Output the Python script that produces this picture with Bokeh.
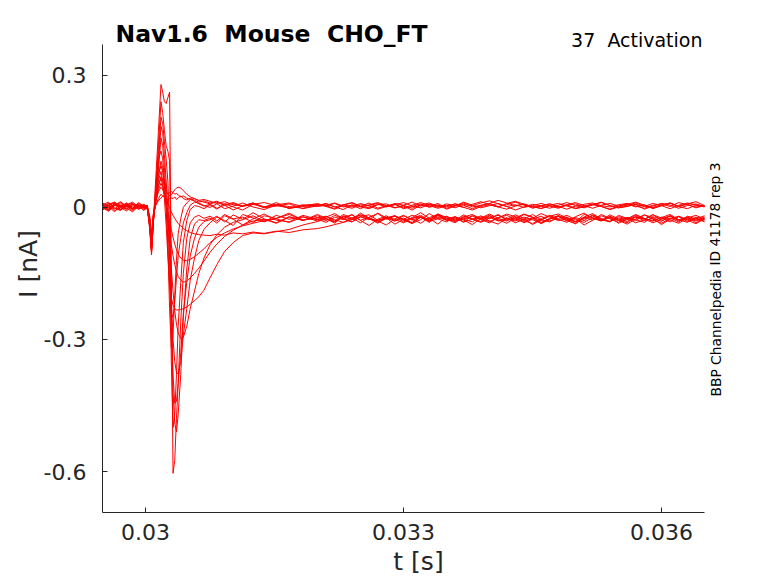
from bokeh.plotting import figure
from bokeh.models import Range1d, FixedTicker, CustomJSTickFormatter, Label
from bokeh.embed import file_html
from bokeh.resources import INLINE

# time axis [s], shared by all sweeps
t_s = [0.02950, 0.02957, 0.02964, 0.02971, 0.02978, 0.02985, 0.02992, 0.02998,
       0.03002, 0.03005, 0.03007, 0.03009, 0.03012, 0.03015, 0.03018, 0.03020, 0.03022, 0.03024, 0.03026, 0.03028,
       0.03030, 0.03032, 0.03034, 0.03036, 0.03038, 0.03041, 0.03044, 0.03048, 0.03052, 0.03057, 0.03062, 0.03068,
       0.03075, 0.03083, 0.03092, 0.03102, 0.03113, 0.03125, 0.03138, 0.03152, 0.03167, 0.03183, 0.03200,
       0.0321, 0.0322, 0.0323, 0.0324, 0.0325, 0.0326, 0.0327, 0.0328, 0.0329,
       0.0330, 0.0331, 0.0332, 0.0333, 0.0334, 0.0335, 0.0336, 0.0337, 0.0338,
       0.0339, 0.0340, 0.0341, 0.0342, 0.0343, 0.0344, 0.0345, 0.0346, 0.0347,
       0.0348, 0.0349, 0.0350, 0.0351, 0.0352, 0.0353, 0.0354, 0.0355, 0.0356,
       0.0357, 0.0358, 0.0359, 0.0360, 0.0361, 0.0362, 0.0363, 0.0364, 0.0365]

# current sweeps [nA]
i_01 = [0.004, -0.006, 0.009, 0.001, -0.003, 0.007, 0.002, -0.001,
        0.001, -0.052, -0.108, -0.036, 0.068, 0.172, 0.279, 0.262, 0.240, 0.236, 0.249, 0.262,
        -0.160, -0.604, -0.575, -0.480, -0.400, -0.260, -0.150, -0.070, -0.035, -0.022, -0.018, -0.025,
        -0.020, -0.031, -0.016, -0.026, -0.022, -0.034, -0.019, -0.025, -0.013, -0.029, -0.024,
        -0.020, -0.031, -0.016, -0.024, -0.035, -0.022, -0.014, -0.027, -0.020,
        -0.033, -0.023, -0.012, -0.025, -0.038, -0.021, -0.029, -0.017, -0.026,
        -0.032, -0.019, -0.028, -0.036, -0.024, -0.015, -0.022, -0.030, -0.018,
        -0.027, -0.034, -0.021, -0.013, -0.025, -0.031, -0.020, -0.029, -0.038,
        -0.026, -0.017, -0.023, -0.032, -0.019, -0.028, -0.022, -0.035, -0.024]
i_02 = [-0.002, 0.008, 0.011, -0.005, 0.003, -0.008, 0.006, 0.000,
        0.002, -0.048, -0.104, -0.040, 0.050, 0.140, 0.240, 0.215, 0.175, 0.140, 0.128, 0.105,
        -0.180, -0.420, -0.490, -0.510, -0.470, -0.380, -0.250, -0.140, -0.070, -0.038, -0.028, -0.030,
        -0.024, -0.036, -0.019, -0.027, -0.040, -0.026, -0.015, -0.029, -0.033, -0.018, -0.027,
        -0.034, -0.022, -0.028, -0.016, -0.030, -0.041, -0.027, -0.019, -0.031,
        -0.024, -0.036, -0.028, -0.014, -0.026, -0.033, -0.021, -0.029, -0.039,
        -0.025, -0.018, -0.030, -0.024, -0.035, -0.027, -0.016, -0.028, -0.033,
        -0.020, -0.031, -0.025, -0.040, -0.029, -0.019, -0.026, -0.034, -0.023,
        -0.030, -0.017, -0.027, -0.036, -0.025, -0.021, -0.032, -0.026, -0.019]
i_03 = [0.008, -0.001, 0.005, 0.013, 0.002, -0.004, 0.009, 0.003,
        0.003, -0.045, -0.100, -0.032, 0.040, 0.120, 0.205, 0.190, 0.150, 0.110, 0.060, -0.050,
        -0.350, -0.500, -0.470, -0.380, -0.270, -0.170, -0.080, -0.030, -0.005, 0.004, 0.002, -0.003,
        0.006, -0.004, 0.009, 0.001, -0.006, 0.007, 0.000, 0.011, -0.003, 0.004, 0.008,
        0.004, -0.003, 0.006, 0.001, 0.009, 0.003, -0.004, 0.002, 0.007,
        -0.001, 0.005, 0.011, 0.004, -0.002, 0.003, 0.008, 0.000, -0.006,
        0.002, 0.006, 0.001, 0.009, 0.014, 0.007, 0.002, -0.003, 0.004,
        0.000, 0.006, -0.002, 0.003, 0.008, 0.002, -0.005, 0.001, 0.005,
        0.010, 0.003, -0.001, 0.004, 0.009, 0.002, -0.003, 0.005, 0.001]
i_04 = [0.000, -0.009, 0.004, 0.002, 0.010, -0.003, 0.005, -0.006,
        -0.002, -0.044, -0.098, -0.038, 0.030, 0.100, 0.184, 0.170, 0.120, 0.060, 0.000, -0.090,
        -0.250, -0.380, -0.445, -0.440, -0.400, -0.330, -0.240, -0.170, -0.110, -0.070, -0.045, -0.032,
        -0.028, -0.020, -0.033, -0.017, -0.027, -0.012, -0.026, -0.035, -0.021, -0.030, -0.016,
        -0.025, -0.036, -0.019, -0.027, -0.013, -0.024, -0.031, -0.040, -0.026,
        -0.018, -0.029, -0.022, -0.034, -0.015, -0.026, -0.021, -0.033, -0.027,
        -0.019, -0.031, -0.038, -0.024, -0.029, -0.016, -0.023, -0.034, -0.026,
        -0.020, -0.030, -0.037, -0.022, -0.014, -0.027, -0.032, -0.018, -0.025,
        -0.035, -0.028, -0.017, -0.024, -0.033, -0.021, -0.029, -0.037, -0.026]
i_05 = [0.006, 0.012, -0.002, -0.007, 0.009, 0.001, -0.004, 0.004,
        0.004, -0.040, -0.095, -0.030, 0.025, 0.085, 0.158, 0.140, 0.090, 0.030, -0.040, -0.120,
        -0.220, -0.300, -0.350, -0.375, -0.378, -0.350, -0.290, -0.230, -0.165, -0.115, -0.075, -0.050,
        -0.035, -0.022, -0.030, -0.041, -0.016, -0.024, -0.033, -0.018, -0.027, -0.021, -0.031,
        -0.022, -0.014, -0.026, -0.033, -0.020, -0.017, -0.029, -0.024, -0.038,
        -0.027, -0.018, -0.023, -0.031, -0.019, -0.027, -0.035, -0.022, -0.016,
        -0.026, -0.032, -0.024, -0.015, -0.021, -0.030, -0.037, -0.025, -0.019,
        -0.028, -0.022, -0.033, -0.016, -0.024, -0.030, -0.021, -0.036, -0.027,
        -0.018, -0.025, -0.031, -0.023, -0.016, -0.028, -0.034, -0.022, -0.027]
i_06 = [-0.005, 0.003, 0.010, -0.001, -0.008, 0.004, 0.001, 0.007,
        0.001, -0.042, -0.096, -0.034, 0.035, 0.110, 0.128, 0.110, 0.060, 0.010, -0.090, -0.230,
        -0.318, -0.290, -0.200, -0.120, -0.060, -0.025, 0.000, 0.010, 0.018, 0.014, 0.008, 0.003,
        0.007, -0.002, 0.005, -0.006, 0.004, 0.010, -0.001, 0.003, 0.008, -0.003, 0.004,
        0.009, 0.001, -0.005, 0.006, 0.002, 0.010, -0.002, 0.004, 0.007,
        -0.003, 0.002, 0.008, 0.000, 0.006, -0.004, 0.003, 0.012, 0.005,
        -0.001, 0.004, 0.009, 0.002, -0.006, 0.001, 0.007, 0.003, -0.002,
        0.005, 0.011, 0.004, -0.001, 0.006, 0.002, -0.004, 0.003, 0.008,
        0.001, 0.006, -0.003, 0.004, 0.010, 0.002, 0.007, -0.001, 0.004]
i_07 = [0.002, -0.007, 0.007, 0.004, -0.002, -0.010, 0.003, -0.001,
        -0.001, -0.038, -0.092, -0.030, 0.020, 0.070, 0.105, 0.090, 0.050, 0.010, -0.030, -0.080,
        -0.140, -0.190, -0.235, -0.265, -0.285, -0.298, -0.295, -0.270, -0.230, -0.190, -0.150, -0.115,
        -0.085, -0.062, -0.045, -0.034, -0.028, -0.019, -0.032, -0.025, -0.016, -0.029, -0.023,
        -0.030, -0.018, -0.025, -0.033, -0.021, -0.028, -0.013, -0.024, -0.031,
        -0.019, -0.027, -0.036, -0.023, -0.016, -0.029, -0.024, -0.034, -0.018,
        -0.026, -0.022, -0.031, -0.027, -0.017, -0.025, -0.039, -0.028, -0.020,
        -0.015, -0.024, -0.032, -0.026, -0.019, -0.030, -0.023, -0.028, -0.035,
        -0.021, -0.027, -0.016, -0.030, -0.024, -0.033, -0.020, -0.026, -0.031]
i_08 = [0.010, 0.003, -0.004, 0.008, 0.005, -0.002, 0.011, 0.002,
        0.003, -0.036, -0.090, -0.028, 0.018, 0.060, 0.082, 0.060, 0.020, -0.040, -0.110, -0.170,
        -0.205, -0.222, -0.230, -0.233, -0.233, -0.232, -0.230, -0.226, -0.220, -0.212, -0.203, -0.188,
        -0.160, -0.130, -0.100, -0.080, -0.064, -0.058, -0.060, -0.055, -0.050, -0.040, -0.032,
        -0.026, -0.033, -0.021, -0.028, -0.017, -0.025, -0.036, -0.024, -0.019,
        -0.029, -0.034, -0.022, -0.027, -0.015, -0.023, -0.031, -0.026, -0.020,
        -0.028, -0.035, -0.023, -0.018, -0.027, -0.032, -0.025, -0.014, -0.022,
        -0.030, -0.026, -0.037, -0.024, -0.019, -0.028, -0.033, -0.021, -0.026,
        -0.016, -0.025, -0.031, -0.022, -0.029, -0.036, -0.024, -0.018, -0.027]
i_09 = [-0.006, 0.002, -0.010, 0.005, 0.001, 0.008, -0.003, 0.004,
        -0.002, -0.040, -0.094, -0.030, 0.028, 0.075, 0.095, 0.080, 0.050, 0.000, -0.080, -0.180,
        -0.240, -0.250, -0.215, -0.160, -0.110, -0.070, -0.035, -0.012, 0.005, 0.012, 0.010, 0.004,
        0.000, 0.008, -0.003, 0.003, 0.010, 0.001, -0.005, 0.006, 0.002, -0.002, 0.007,
        0.002, -0.004, 0.005, 0.010, 0.001, -0.003, 0.006, 0.008, -0.001,
        0.003, -0.006, 0.005, 0.002, 0.009, -0.002, 0.004, 0.000, 0.007,
        0.013, 0.006, 0.001, -0.004, 0.003, 0.008, 0.002, -0.002, 0.005,
        0.009, 0.003, -0.003, 0.001, 0.006, 0.011, 0.004, -0.001, 0.002,
        0.007, -0.004, 0.003, 0.009, 0.005, -0.002, 0.004, 0.008, 0.002]
i_10 = [0.003, 0.009, -0.001, -0.006, 0.004, 0.010, -0.004, 0.001,
        0.000, -0.034, -0.088, -0.026, 0.015, 0.048, 0.066, 0.050, 0.030, 0.005, -0.025, -0.055,
        -0.085, -0.110, -0.130, -0.145, -0.157, -0.165, -0.170, -0.168, -0.160, -0.150, -0.138, -0.122,
        -0.102, -0.083, -0.066, -0.052, -0.040, -0.031, -0.027, -0.036, -0.022, -0.029, -0.019,
        -0.026, -0.032, -0.022, -0.017, -0.029, -0.023, -0.034, -0.025, -0.020,
        -0.028, -0.037, -0.022, -0.027, -0.018, -0.030, -0.024, -0.027, -0.033,
        -0.021, -0.026, -0.016, -0.029, -0.024, -0.035, -0.027, -0.020, -0.031,
        -0.025, -0.018, -0.028, -0.034, -0.023, -0.029, -0.017, -0.026, -0.032,
        -0.022, -0.030, -0.025, -0.039, -0.027, -0.020, -0.028, -0.024, -0.033]
i_11 = [-0.001, 0.005, 0.012, 0.003, -0.005, 0.007, 0.000, 0.006,
        0.002, -0.030, -0.084, -0.022, 0.012, 0.035, 0.046, 0.040, 0.030, 0.018, 0.008, 0.000,
        -0.010, -0.018, -0.025, -0.031, -0.037, -0.042, -0.048, -0.053, -0.057, -0.060, -0.062, -0.063,
        -0.064, -0.061, -0.063, -0.058, -0.060, -0.056, -0.059, -0.054, -0.057, -0.051, -0.048,
        -0.044, -0.039, -0.034, -0.028, -0.022, -0.027, -0.031, -0.024, -0.019,
        -0.028, -0.025, -0.021, -0.032, -0.026, -0.020, -0.029, -0.023, -0.027,
        -0.034, -0.024, -0.018, -0.026, -0.031, -0.022, -0.028, -0.036, -0.025,
        -0.019, -0.027, -0.023, -0.030, -0.017, -0.025, -0.032, -0.024, -0.028,
        -0.021, -0.026, -0.035, -0.027, -0.020, -0.029, -0.023, -0.031, -0.025]
i_12 = [0.007, -0.004, 0.004, 0.011, 0.003, -0.002, 0.006, 0.001,
        0.005, -0.028, -0.080, -0.018, 0.020, 0.050, 0.070, 0.062, 0.050, 0.040, 0.030, 0.026,
        0.028, 0.034, 0.040, 0.044, 0.046, 0.044, 0.038, 0.030, 0.024, 0.020, 0.016, 0.018,
        0.014, 0.009, 0.013, 0.006, 0.003, 0.010, 0.001, 0.007, -0.002, 0.004, 0.008,
        0.003, 0.009, 0.001, 0.005, -0.003, 0.006, 0.011, 0.004, -0.001,
        0.005, 0.012, 0.003, 0.007, 0.000, 0.008, 0.004, 0.010, 0.001,
        0.005, 0.009, 0.016, 0.010, 0.004, 0.007, -0.002, 0.003, 0.008,
        0.001, 0.006, 0.011, 0.004, -0.002, 0.005, 0.009, 0.003, 0.007,
        0.012, 0.005, 0.000, 0.006, 0.010, 0.003, 0.008, 0.013, 0.004]
i_13 = [-0.003, 0.006, -0.008, 0.000, 0.007, -0.005, 0.002, -0.002,
        -0.002, -0.025, -0.070, -0.020, 0.006, 0.020, 0.030, 0.026, 0.022, 0.019, 0.018, 0.020,
        0.022, 0.020, 0.024, 0.018, 0.022, 0.026, 0.020, 0.017, 0.021, 0.016, 0.012, 0.015,
        0.010, 0.014, 0.006, 0.011, 0.003, 0.009, 0.001, 0.006, 0.010, 0.002, 0.005,
        0.008, 0.001, 0.006, 0.011, 0.003, -0.001, 0.007, 0.002, 0.009,
        0.005, -0.002, 0.006, 0.010, 0.002, 0.005, -0.001, 0.007, 0.004,
        0.010, 0.015, 0.008, 0.002, 0.006, 0.000, 0.004, 0.009, 0.003,
        -0.002, 0.005, 0.008, 0.001, 0.006, 0.012, 0.004, -0.001, 0.003,
        0.007, 0.002, 0.009, 0.004, -0.003, 0.005, 0.010, 0.006, 0.002]
i_14 = [0.005, -0.001, 0.007, -0.004, 0.006, 0.012, 0.001, 0.004,
        0.004, -0.020, -0.060, -0.015, 0.005, 0.015, 0.022, 0.025, 0.028, 0.030, 0.032, 0.034,
        0.036, 0.034, 0.030, 0.032, 0.028, 0.024, 0.026, 0.021, 0.018, 0.020, 0.015, 0.012,
        0.008, 0.012, 0.004, 0.009, 0.002, 0.007, 0.011, 0.004, -0.001, 0.006, 0.002,
        0.005, 0.010, 0.003, -0.002, 0.006, 0.004, 0.009, 0.001, 0.006,
        0.011, 0.003, -0.001, 0.007, 0.004, 0.001, 0.008, 0.005, -0.003,
        0.004, 0.009, 0.002, 0.006, 0.012, 0.005, 0.000, 0.004, 0.008,
        0.002, -0.004, 0.003, 0.007, 0.010, 0.004, 0.001, 0.006, 0.009,
        0.003, -0.002, 0.005, 0.008, 0.002, 0.011, 0.006, 0.001, 0.004]
i_15 = [0.001, -0.006, 0.006, 0.002, 0.009, -0.003, 0.004, -0.007,
        0.003, -0.032, -0.086, -0.024, 0.014, 0.040, 0.055, 0.045, 0.030, 0.012, -0.010, -0.030,
        -0.050, -0.068, -0.083, -0.096, -0.106, -0.115, -0.120, -0.121, -0.118, -0.112, -0.104, -0.094,
        -0.080, -0.068, -0.058, -0.049, -0.042, -0.036, -0.030, -0.026, -0.034, -0.022, -0.028,
        -0.021, -0.028, -0.034, -0.024, -0.017, -0.026, -0.030, -0.022, -0.027,
        -0.035, -0.025, -0.018, -0.029, -0.023, -0.027, -0.032, -0.020, -0.026,
        -0.024, -0.015, -0.025, -0.031, -0.021, -0.028, -0.024, -0.037, -0.027,
        -0.019, -0.026, -0.033, -0.022, -0.029, -0.016, -0.025, -0.030, -0.023,
        -0.028, -0.034, -0.021, -0.026, -0.019, -0.031, -0.025, -0.029, -0.022]

sweeps = [i_01, i_02, i_03, i_04, i_05, i_06, i_07, i_08, i_09, i_10, i_11, i_12, i_13, i_14, i_15]
assert all(len(s) == len(t_s) for s in sweeps), [len(s) for s in sweeps]

x_ticks = [0.03, 0.033, 0.036]
y_ticks = [-0.6, -0.3, 0, 0.3]
x_lo, x_hi = 0.0295, 0.0365   # axis extent
y_lo, y_hi = -0.693, 0.370

# the double gaps are kept with a no-break space, svg text would collapse them
title_text = "Nav1.6\u00a0 Mouse\u00a0 CHO_FT"
corner_text = "37\u00a0 Activation"
side_text = "BBP Channelpedia ID 41178 rep 3"

# frame is taller/wider than the axes so the texts around it are not clipped;
# the axis lines are limited to the data extent with bounds
FW, FH = 632, 497   # frame size, px
AW, AH = 602, 468   # axes box inside it, px
p = figure(frame_width=FW, frame_height=FH,
           min_border_left=102, min_border_top=15, min_border_right=20, min_border_bottom=70,
           x_range=Range1d(x_lo, x_lo + (x_hi - x_lo) * FW / AW),
           y_range=Range1d(y_lo, y_lo + (y_hi - y_lo) * FH / AH),
           output_backend="svg", toolbar_location=None, tools="")

for ys in sweeps:
    p.line(t_s, ys, line_color="#ff0000", line_width=1)

p.xgrid.visible = False
p.ygrid.visible = False
p.outline_line_color = None

fmt = CustomJSTickFormatter(code="return String(Math.round(tick * 1000) / 1000);")
p.xaxis.ticker = FixedTicker(ticks=x_ticks)
p.yaxis.ticker = FixedTicker(ticks=y_ticks)
p.xaxis.bounds = (x_lo, x_hi)
p.yaxis.bounds = (y_lo, y_hi)
p.xaxis.axis_label = "t [s]"
p.yaxis.axis_label = "I [nA]"
for ax in (p.xaxis[0], p.yaxis[0]):
    ax.formatter = fmt
    ax.axis_line_color = "#262626"
    ax.axis_line_width = 1
    ax.major_tick_line_color = "#262626"
    ax.major_tick_in = 5
    ax.major_tick_out = 0
    ax.minor_tick_line_color = None
    ax.major_label_text_font = "DejaVu Sans"
    ax.major_label_text_font_size = "22px"
    ax.major_label_text_color = "#262626"
    ax.axis_label_text_font = "DejaVu Sans"
    ax.axis_label_text_font_size = "25px"
    ax.axis_label_text_font_style = "normal"
    ax.axis_label_text_color = "#262626"
p.xaxis.major_label_standoff = 11
p.yaxis.major_label_standoff = 16
p.xaxis.axis_label_standoff = 4
p.yaxis.axis_label_standoff = -2

p.add_layout(Label(x=13, y=479, x_units="screen", y_units="screen", text=title_text,
                   text_font="DejaVu Sans", text_font_style="bold", text_font_size="23.5px",
                   text_color="black", text_align="left", text_baseline="alphabetic"))
p.add_layout(Label(x=600, y=473, x_units="screen", y_units="screen", text=corner_text,
                   text_font="DejaVu Sans", text_font_size="19px", text_color="black",
                   text_align="right", text_baseline="alphabetic"))
p.add_layout(Label(x=613, y=233, x_units="screen", y_units="screen", text=side_text, angle=1.5708,
                   text_font="DejaVu Sans", text_font_size="13.8px", text_color="black",
                   text_align="center", text_baseline="alphabetic"))

open("out.html", "w").write(file_html(p, INLINE))
